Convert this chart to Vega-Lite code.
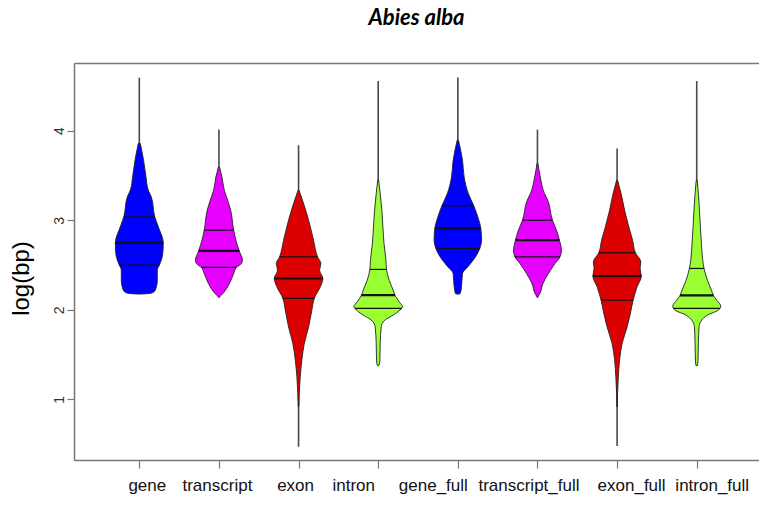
{
  "$schema": "https://vega.github.io/schema/vega-lite/v6.json",
  "width": 685,
  "height": 397,
  "autosize": {"type": "none"},
  "padding": {"left": 74, "top": 63, "right": 0, "bottom": 46},
  "background": "white",
  "config": {"view": {"stroke": null}},
  "title": {"text": "Abies alba", "font": "Lato", "fontStyle": "italic", "fontWeight": "bold", "fontSize": 22, "color": "#000", "anchor": "middle", "baseline": "alphabetic", "offset": 16},
  "datasets": {
    "ranges": [
      {"cat": "gene", "min": 2.175, "max": 4.592},
      {"cat": "transcript", "min": 2.138, "max": 4.012},
      {"cat": "exon", "min": 0.472, "max": 3.837},
      {"cat": "intron", "min": 1.372, "max": 4.554},
      {"cat": "gene_full", "min": 2.175, "max": 4.592},
      {"cat": "transcript_full", "min": 2.138, "max": 4.012},
      {"cat": "exon_full", "min": 0.48, "max": 3.8},
      {"cat": "intron_full", "min": 1.372, "max": 4.554}
    ],
    "dens": [
      {"cat": "gene", "v": 3.856, "w": 0.013},
      {"cat": "gene", "v": 3.669, "w": 0.054},
      {"cat": "gene", "v": 3.483, "w": 0.084},
      {"cat": "gene", "v": 3.335, "w": 0.113},
      {"cat": "gene", "v": 3.26, "w": 0.151},
      {"cat": "gene", "v": 3.037, "w": 0.195},
      {"cat": "gene", "v": 2.926, "w": 0.239},
      {"cat": "gene", "v": 2.747, "w": 0.301},
      {"cat": "gene", "v": 2.629, "w": 0.295},
      {"cat": "gene", "v": 2.554, "w": 0.276},
      {"cat": "gene", "v": 2.498, "w": 0.251},
      {"cat": "gene", "v": 2.443, "w": 0.226},
      {"cat": "gene", "v": 2.331, "w": 0.226},
      {"cat": "gene", "v": 2.22, "w": 0.201},
      {"cat": "gene", "v": 2.19, "w": 0.163},
      {"cat": "gene", "v": 2.18, "w": 0.1},
      {"cat": "gene", "v": 2.176, "w": 0.0},

      {"cat": "transcript", "v": 3.595, "w": 0.006},
      {"cat": "transcript", "v": 3.483, "w": 0.038},
      {"cat": "transcript", "v": 3.335, "w": 0.067},
      {"cat": "transcript", "v": 3.223, "w": 0.109},
      {"cat": "transcript", "v": 3.112, "w": 0.147},
      {"cat": "transcript", "v": 2.889, "w": 0.185},
      {"cat": "transcript", "v": 2.777, "w": 0.213},
      {"cat": "transcript", "v": 2.658, "w": 0.255},
      {"cat": "transcript", "v": 2.554, "w": 0.295},
      {"cat": "transcript", "v": 2.517, "w": 0.283},
      {"cat": "transcript", "v": 2.473, "w": 0.22},
      {"cat": "transcript", "v": 2.406, "w": 0.185},
      {"cat": "transcript", "v": 2.294, "w": 0.132},
      {"cat": "transcript", "v": 2.183, "w": 0.05},
      {"cat": "transcript", "v": 2.138, "w": 0.0},

      {"cat": "exon", "v": 3.335, "w": 0.006},
      {"cat": "exon", "v": 3.187, "w": 0.063},
      {"cat": "exon", "v": 3.0, "w": 0.126},
      {"cat": "exon", "v": 2.777, "w": 0.188},
      {"cat": "exon", "v": 2.591, "w": 0.239},
      {"cat": "exon", "v": 2.517, "w": 0.28},
      {"cat": "exon", "v": 2.443, "w": 0.264},
      {"cat": "exon", "v": 2.35, "w": 0.305},
      {"cat": "exon", "v": 2.257, "w": 0.273},
      {"cat": "exon", "v": 2.127, "w": 0.197},
      {"cat": "exon", "v": 1.997, "w": 0.167},
      {"cat": "exon", "v": 1.81, "w": 0.126},
      {"cat": "exon", "v": 1.625, "w": 0.072},
      {"cat": "exon", "v": 1.439, "w": 0.041},
      {"cat": "exon", "v": 1.253, "w": 0.021},
      {"cat": "exon", "v": 1.068, "w": 0.009},
      {"cat": "exon", "v": 0.918, "w": 0.003},

      {"cat": "intron", "v": 3.446, "w": 0.006},
      {"cat": "intron", "v": 3.298, "w": 0.025},
      {"cat": "intron", "v": 3.112, "w": 0.046},
      {"cat": "intron", "v": 2.926, "w": 0.059},
      {"cat": "intron", "v": 2.74, "w": 0.073},
      {"cat": "intron", "v": 2.554, "w": 0.097},
      {"cat": "intron", "v": 2.451, "w": 0.104},
      {"cat": "intron", "v": 2.331, "w": 0.138},
      {"cat": "intron", "v": 2.22, "w": 0.188},
      {"cat": "intron", "v": 2.164, "w": 0.21},
      {"cat": "intron", "v": 2.089, "w": 0.264},
      {"cat": "intron", "v": 2.033, "w": 0.305},
      {"cat": "intron", "v": 2.016, "w": 0.293},
      {"cat": "intron", "v": 1.941, "w": 0.188},
      {"cat": "intron", "v": 1.885, "w": 0.084},
      {"cat": "intron", "v": 1.81, "w": 0.038},
      {"cat": "intron", "v": 1.625, "w": 0.025},
      {"cat": "intron", "v": 1.439, "w": 0.021},
      {"cat": "intron", "v": 1.394, "w": 0.015},
      {"cat": "intron", "v": 1.372, "w": 0.0},

      {"cat": "gene_full", "v": 3.893, "w": 0.008},
      {"cat": "gene_full", "v": 3.669, "w": 0.059},
      {"cat": "gene_full", "v": 3.483, "w": 0.079},
      {"cat": "gene_full", "v": 3.298, "w": 0.132},
      {"cat": "gene_full", "v": 3.16, "w": 0.201},
      {"cat": "gene_full", "v": 3.037, "w": 0.251},
      {"cat": "gene_full", "v": 2.908, "w": 0.289},
      {"cat": "gene_full", "v": 2.777, "w": 0.298},
      {"cat": "gene_full", "v": 2.685, "w": 0.276},
      {"cat": "gene_full", "v": 2.591, "w": 0.222},
      {"cat": "gene_full", "v": 2.48, "w": 0.126},
      {"cat": "gene_full", "v": 2.406, "w": 0.059},
      {"cat": "gene_full", "v": 2.257, "w": 0.046},
      {"cat": "gene_full", "v": 2.183, "w": 0.031},
      {"cat": "gene_full", "v": 2.175, "w": 0.0},

      {"cat": "transcript_full", "v": 3.633, "w": 0.006},
      {"cat": "transcript_full", "v": 3.483, "w": 0.035},
      {"cat": "transcript_full", "v": 3.298, "w": 0.088},
      {"cat": "transcript_full", "v": 3.223, "w": 0.129},
      {"cat": "transcript_full", "v": 3.0, "w": 0.188},
      {"cat": "transcript_full", "v": 2.889, "w": 0.239},
      {"cat": "transcript_full", "v": 2.777, "w": 0.276},
      {"cat": "transcript_full", "v": 2.666, "w": 0.301},
      {"cat": "transcript_full", "v": 2.591, "w": 0.283},
      {"cat": "transcript_full", "v": 2.517, "w": 0.22},
      {"cat": "transcript_full", "v": 2.406, "w": 0.138},
      {"cat": "transcript_full", "v": 2.294, "w": 0.069},
      {"cat": "transcript_full", "v": 2.183, "w": 0.031},
      {"cat": "transcript_full", "v": 2.138, "w": 0.0},

      {"cat": "exon_full", "v": 3.446, "w": 0.006},
      {"cat": "exon_full", "v": 3.298, "w": 0.05},
      {"cat": "exon_full", "v": 3.112, "w": 0.094},
      {"cat": "exon_full", "v": 2.926, "w": 0.147},
      {"cat": "exon_full", "v": 2.777, "w": 0.195},
      {"cat": "exon_full", "v": 2.636, "w": 0.23},
      {"cat": "exon_full", "v": 2.535, "w": 0.298},
      {"cat": "exon_full", "v": 2.462, "w": 0.289},
      {"cat": "exon_full", "v": 2.376, "w": 0.304},
      {"cat": "exon_full", "v": 2.257, "w": 0.251},
      {"cat": "exon_full", "v": 2.108, "w": 0.201},
      {"cat": "exon_full", "v": 1.96, "w": 0.167},
      {"cat": "exon_full", "v": 1.81, "w": 0.126},
      {"cat": "exon_full", "v": 1.625, "w": 0.063},
      {"cat": "exon_full", "v": 1.439, "w": 0.031},
      {"cat": "exon_full", "v": 1.253, "w": 0.016},
      {"cat": "exon_full", "v": 1.068, "w": 0.006},
      {"cat": "exon_full", "v": 0.918, "w": 0.003},

      {"cat": "intron_full", "v": 3.446, "w": 0.006},
      {"cat": "intron_full", "v": 3.298, "w": 0.021},
      {"cat": "intron_full", "v": 2.926, "w": 0.046},
      {"cat": "intron_full", "v": 2.74, "w": 0.059},
      {"cat": "intron_full", "v": 2.554, "w": 0.075},
      {"cat": "intron_full", "v": 2.462, "w": 0.092},
      {"cat": "intron_full", "v": 2.331, "w": 0.134},
      {"cat": "intron_full", "v": 2.22, "w": 0.185},
      {"cat": "intron_full", "v": 2.161, "w": 0.21},
      {"cat": "intron_full", "v": 2.108, "w": 0.251},
      {"cat": "intron_full", "v": 2.041, "w": 0.301},
      {"cat": "intron_full", "v": 1.997, "w": 0.273},
      {"cat": "intron_full", "v": 1.941, "w": 0.134},
      {"cat": "intron_full", "v": 1.885, "w": 0.063},
      {"cat": "intron_full", "v": 1.81, "w": 0.029},
      {"cat": "intron_full", "v": 1.625, "w": 0.021},
      {"cat": "intron_full", "v": 1.439, "w": 0.016},
      {"cat": "intron_full", "v": 1.394, "w": 0.013},
      {"cat": "intron_full", "v": 1.372, "w": 0.0}
    ],
    "qlines": [
      {"cat": "gene", "kind": "q", "v": 3.037, "w": 0.195},
      {"cat": "gene", "kind": "m", "v": 2.747, "w": 0.301},
      {"cat": "gene", "kind": "q", "v": 2.498, "w": 0.251},
      {"cat": "transcript", "kind": "q", "v": 2.889, "w": 0.185},
      {"cat": "transcript", "kind": "m", "v": 2.658, "w": 0.255},
      {"cat": "transcript", "kind": "q", "v": 2.473, "w": 0.22},
      {"cat": "exon", "kind": "q", "v": 2.591, "w": 0.239},
      {"cat": "exon", "kind": "m", "v": 2.35, "w": 0.305},
      {"cat": "exon", "kind": "q", "v": 2.127, "w": 0.197},
      {"cat": "intron", "kind": "q", "v": 2.451, "w": 0.104},
      {"cat": "intron", "kind": "m", "v": 2.164, "w": 0.21},
      {"cat": "intron", "kind": "q", "v": 2.016, "w": 0.293},
      {"cat": "gene_full", "kind": "q", "v": 3.16, "w": 0.201},
      {"cat": "gene_full", "kind": "m", "v": 2.908, "w": 0.289},
      {"cat": "gene_full", "kind": "q", "v": 2.685, "w": 0.276},
      {"cat": "transcript_full", "kind": "q", "v": 3.0, "w": 0.188},
      {"cat": "transcript_full", "kind": "m", "v": 2.777, "w": 0.276},
      {"cat": "transcript_full", "kind": "q", "v": 2.591, "w": 0.283},
      {"cat": "exon_full", "kind": "q", "v": 2.636, "w": 0.23},
      {"cat": "exon_full", "kind": "m", "v": 2.376, "w": 0.304},
      {"cat": "exon_full", "kind": "q", "v": 2.108, "w": 0.201},
      {"cat": "intron_full", "kind": "q", "v": 2.462, "w": 0.092},
      {"cat": "intron_full", "kind": "m", "v": 2.161, "w": 0.21},
      {"cat": "intron_full", "kind": "q", "v": 2.016, "w": 0.29}
    ]
  },
  "resolve": {"axis": {"x": "independent"}},
  "layer": [
    {
      "data": {"name": "ranges"},
      "transform": [
        {"calculate": "indexof(['gene','transcript','exon','intron','gene_full','transcript_full','exon_full','intron_full'], datum.cat) + 1", "as": "pos"}
      ],
      "mark": {"type": "rule", "color": "#4a4a4a", "strokeWidth": 1.6},
      "encoding": {
        "x": {"field": "pos", "type": "quantitative",
          "scale": {"domain": [0.18, 8.782], "nice": false, "zero": false},
          "axis": {"orient": "bottom", "values": [1,2,3,4,5,6,7,8], "title": null, "grid": false,
            "labelExpr": "['gene','transcript','exon','intron','gene_full','transcript_full','exon_full','intron_full'][datum.value - 1]",
            "tickSize": 8, "tickColor": "#777", "tickWidth": 1.2, "domainColor": "#777", "domainWidth": 1.5,
            "labelFont": "Liberation Sans", "labelFontSize": 17, "labelColor": "#111",
            "labelBaseline": "alphabetic", "labelPadding": 22, "labelAlign": "center", "labelOverlap": false, "labelFlush": false,
            "labelOffset": {"condition": [
              {"test": "datum.value == 1", "value": 7.5},
              {"test": "datum.value == 2", "value": -2},
              {"test": "datum.value == 3", "value": -3.5},
              {"test": "datum.value == 4", "value": -25},
              {"test": "datum.value == 5", "value": -25},
              {"test": "datum.value == 6", "value": -9},
              {"test": "datum.value == 7", "value": 14},
              {"test": "datum.value == 8", "value": 15}
            ], "value": 0}
          }
        },
        "y": {"field": "min", "type": "quantitative",
          "scale": {"domain": [0.324, 4.755], "nice": false, "zero": false},
          "axis": {"values": [1,2,3,4], "grid": false, "title": "log(bp)",
            "tickSize": 7, "tickColor": "#777", "tickWidth": 1.2, "domainColor": "#777", "domainWidth": 1.5,
            "labelAngle": -90, "labelAlign": "center", "labelBaseline": "middle", "labelPadding": 8,
            "labelFont": "Liberation Sans", "labelFontSize": 14, "labelColor": "#333",
            "titleFont": "Liberation Sans", "titleFontSize": 24, "titleFontWeight": "normal", "titleColor": "#000",
            "titleX": -53, "titleY": 215, "titleBaseline": "middle", "titleAlign": "center"
          }
        },
        "y2": {"field": "max"}
      }
    },
    {
      "data": {"name": "dens"},
      "transform": [
        {"calculate": "indexof(['gene','transcript','exon','intron','gene_full','transcript_full','exon_full','intron_full'], datum.cat) + 1", "as": "pos"},
        {"calculate": "datum.pos - datum.w", "as": "lo"},
        {"calculate": "datum.pos + datum.w", "as": "hi"}
      ],
      "mark": {"type": "area", "orient": "horizontal", "interpolate": "monotone", "stroke": "#222", "strokeWidth": 0.9, "fillOpacity": 1},
      "encoding": {
        "y": {"field": "v", "type": "quantitative",
          "axis": {"values": [1,2,3,4], "grid": false, "title": "log(bp)",
            "tickSize": 7, "tickColor": "#777", "tickWidth": 1.2, "domainColor": "#777", "domainWidth": 1.5,
            "labelAngle": -90, "labelAlign": "center", "labelBaseline": "middle", "labelPadding": 8,
            "labelFont": "Liberation Sans", "labelFontSize": 14, "labelColor": "#333",
            "titleFont": "Liberation Sans", "titleFontSize": 24, "titleFontWeight": "normal", "titleColor": "#000",
            "titleX": -53, "titleY": 215, "titleBaseline": "middle", "titleAlign": "center"
          }
        },
        "x": {"field": "lo", "type": "quantitative",
          "axis": {"orient": "top", "labels": false, "ticks": false, "title": null, "grid": false, "domainColor": "#777", "domainWidth": 1.5}},
        "x2": {"field": "hi"},
        "color": {"field": "cat", "type": "nominal", "legend": null,
          "scale": {"domain": ["gene","transcript","exon","intron","gene_full","transcript_full","exon_full","intron_full"],
            "range": ["#0000ff", "#e600ff", "#dd0000", "#99ff33", "#0000ff", "#e600ff", "#dd0000", "#99ff33"]}}
      }
    },
    {
      "data": {"name": "qlines"},
      "transform": [
        {"calculate": "indexof(['gene','transcript','exon','intron','gene_full','transcript_full','exon_full','intron_full'], datum.cat) + 1", "as": "pos"},
        {"calculate": "datum.pos - datum.w", "as": "lo"},
        {"calculate": "datum.pos + datum.w", "as": "hi"}
      ],
      "mark": {"type": "rule", "color": "#111"},
      "encoding": {
        "y": {"field": "v", "type": "quantitative",
          "axis": {"values": [1,2,3,4], "grid": false, "title": "log(bp)",
            "tickSize": 7, "tickColor": "#777", "tickWidth": 1.2, "domainColor": "#777", "domainWidth": 1.5,
            "labelAngle": -90, "labelAlign": "center", "labelBaseline": "middle", "labelPadding": 8,
            "labelFont": "Liberation Sans", "labelFontSize": 14, "labelColor": "#333",
            "titleFont": "Liberation Sans", "titleFontSize": 24, "titleFontWeight": "normal", "titleColor": "#000",
            "titleX": -53, "titleY": 215, "titleBaseline": "middle", "titleAlign": "center"
          }
        },
        "x": {"field": "lo", "type": "quantitative", "axis": null},
        "x2": {"field": "hi"},
        "strokeWidth": {"field": "kind", "type": "nominal", "legend": null, "scale": {"domain": ["q", "m"], "range": [1.2, 2.2]}}
      }
    }
  ]
}
